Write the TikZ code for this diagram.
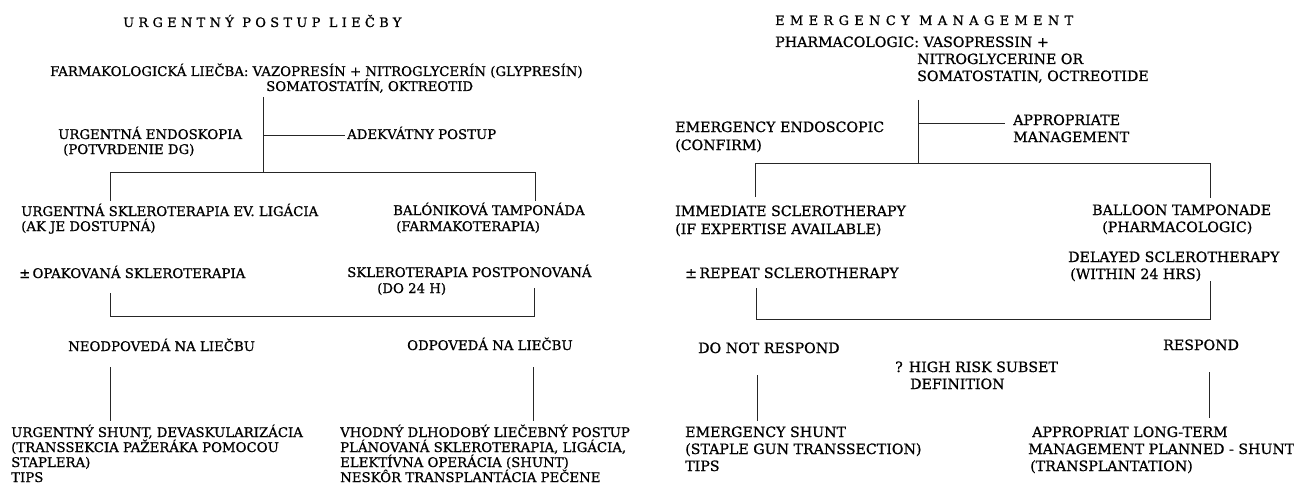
\documentclass[tikz,border=0pt]{standalone}
\usepackage{fontspec}
\setmainfont{DejaVu Serif}[FakeBold=0.8]
\tikzset{
  ln/.style={draw=black!85, line width=0.9pt},
  lt/.style={anchor=base west, inner sep=0pt, font=\fontsize{13.3}{15}\selectfont},
  rt/.style={anchor=base west, inner sep=0pt, font=\fontsize{14.2}{17}\selectfont},
  ttlL/.style={anchor=base west, inner sep=0pt, font=\fontsize{13}{15}\selectfont\addfontfeature{LetterSpace=33}},
  ttlR/.style={anchor=base west, inner sep=0pt, font=\fontsize{13}{15}\selectfont\addfontfeature{LetterSpace=41}},
}
\begin{document}
\begin{tikzpicture}[x=1pt,y=-1pt]
\fill[white] (0,0) rectangle (1294,487);
\useasboundingbox (0,0) rectangle (1294,487);

% ---------------- left panel ----------------
\node[ttlL] (tl) at (123,27) {URGENTNÝ POSTUP LIEČBY};
\node[lt] (f1) at (50,76) {FARMAKOLOGICKÁ LIEČBA: VAZOPRESÍN + NITROGLYCERÍN (GLYPRESÍN)};
\node[lt] (f2) at (266,91) {SOMATOSTATÍN, OKTREOTID};
\node[lt] (e1) at (58,139) {URGENTNÁ ENDOSKOPIA};
\node[lt] (e2) at (63,154) {(POTVRDENIE DG)};
\node[lt] (a1) at (347,139) {ADEKVÁTNY POSTUP};
\node[lt] (s1) at (21,216) {URGENTNÁ SKLEROTERAPIA EV. LIGÁCIA};
\node[lt] (s2) at (21,231) {(AK JE DOSTUPNÁ)};
\node[lt] (b1) at (393,215) {BALÓNIKOVÁ TAMPONÁDA};
\node[lt] (b2) at (396,231) {(FARMAKOTERAPIA)};
\node[lt] (r1) at (19,278) {±\,OPAKOVANÁ SKLEROTERAPIA};
\node[lt] (p1) at (347,277) {SKLEROTERAPIA POSTPONOVANÁ};
\node[lt] (p2) at (377,293) {(DO 24 H)};
\node[lt] (n1) at (68,351) {NEODPOVEDÁ NA LIEČBU};
\node[lt] (o1) at (407,350) {ODPOVEDÁ NA LIEČBU};
\node[lt] (u1) at (11,437) {URGENTNÝ SHUNT, DEVASKULARIZÁCIA};
\node[lt] (u2) at (11,452) {(TRANSSEKCIA PAŽERÁKA POMOCOU};
\node[lt] (u3) at (11,467) {STAPLERA)};
\node[lt] (u4) at (11,482) {TIPS};
\node[lt] (v1) at (340,437) {VHODNÝ DLHODOBÝ LIEČEBNÝ POSTUP};
\node[lt] (v2) at (340,452) {PLÁNOVANÁ SKLEROTERAPIA, LIGÁCIA,};
\node[lt] (v3) at (340,467) {ELEKTÍVNA OPERÁCIA (SHUNT)};
\node[lt] (v4) at (340,482) {NESKÔR TRANSPLANTÁCIA PEČENE};

\coordinate (lA) at (263,97);
\coordinate (lB) at (263,172);
\coordinate (lE) at (263,135);
\coordinate (lE2) at (345,135);
\coordinate (lH1) at (110,172);
\coordinate (lH2) at (535,172);
\coordinate (lS) at (110,201);
\coordinate (lBt) at (535,201);
\coordinate (lR) at (110,293);
\coordinate (lL1) at (110,316);
\coordinate (lL2) at (534,316);
\coordinate (lP) at (534,288);
\coordinate (lN) at (110,367);
\coordinate (lU) at (110,421);
\coordinate (lO) at (533,367);
\coordinate (lV) at (533,421);
\draw[ln] (lA) -- (lB);
\draw[ln] (lE) -- (lE2);
\draw[ln] (lS) -- (lH1) -- (lH2) -- (lBt);
\draw[ln] (lR) -- (lL1) -- (lL2) -- (lP);
\draw[ln] (lN) -- (lU);
\draw[ln] (lO) -- (lV);

% ---------------- right panel ----------------
\node[ttlR] (tr) at (775,25) {EMERGENCY MANAGEMENT};
\node[rt] (ph1) at (775,47) {PHARMACOLOGIC: VASOPRESSIN +};
\node[rt] (ph2) at (917,64) {NITROGLYCERINE OR};
\node[rt] (ph3) at (917,81) {SOMATOSTATIN, OCTREOTIDE};
\node[rt] (ee1) at (675,132) {EMERGENCY ENDOSCOPIC};
\node[rt] (ee2) at (675,150) {(CONFIRM)};
\node[rt] (am1) at (1013,125) {APPROPRIATE};
\node[rt] (am2) at (1013,142) {MANAGEMENT};
\node[rt] (is1) at (675,216) {IMMEDIATE SCLEROTHERAPY};
\node[rt] (is2) at (675,234) {(IF EXPERTISE AVAILABLE)};
\node[rt] (bt1) at (1092,215) {BALLOON TAMPONADE};
\node[rt] (bt2) at (1102,232) {(PHARMACOLOGIC)};
\node[rt] (rs) at (685,278) {±\,REPEAT SCLEROTHERAPY};
\node[rt] (ds1) at (1068,262) {DELAYED SCLEROTHERAPY};
\node[rt] (ds2) at (1070,279) {(WITHIN 24 HRS)};
\node[rt] (dn) at (698,353) {DO NOT RESPOND};
\node[rt] (re) at (1163,350) {RESPOND};
\node[rt] (hr1) at (895,372) {? HIGH RISK SUBSET};
\node[rt] (hr2) at (910,389) {DEFINITION};
\node[rt] (es1) at (685,437) {EMERGENCY SHUNT};
\node[rt] (es2) at (685,454) {(STAPLE GUN TRANSSECTION)};
\node[rt] (es3) at (685,471) {TIPS};
\node[rt] (al1) at (1032,437) {APPROPRIAT LONG-TERM};
\node[rt] (al2) at (1028,454) {MANAGEMENT PLANNED - SHUNT};
\node[rt] (al3) at (1030,471) {(TRANSPLANTATION)};

\coordinate (rA) at (918,100);
\coordinate (rB) at (918,163);
\coordinate (rE) at (918,123);
\coordinate (rE2) at (1005,123);
\coordinate (rH1) at (755,163);
\coordinate (rH2) at (1210,163);
\coordinate (rS) at (755,197);
\coordinate (rBt) at (1210,198);
\coordinate (rR) at (756,288);
\coordinate (rL1) at (756,319);
\coordinate (rL2) at (1210,319);
\coordinate (rD) at (1210,281);
\coordinate (rN) at (757,375);
\coordinate (rU) at (757,421);
\coordinate (rO) at (1209,372);
\coordinate (rV) at (1209,418);
\draw[ln] (rA) -- (rB);
\draw[ln] (rE) -- (rE2);
\draw[ln] (rS) -- (rH1) -- (rH2) -- (rBt);
\draw[ln] (rR) -- (rL1) -- (rL2) -- (rD);
\draw[ln] (rN) -- (rU);
\draw[ln] (rO) -- (rV);
\end{tikzpicture}
\end{document}
